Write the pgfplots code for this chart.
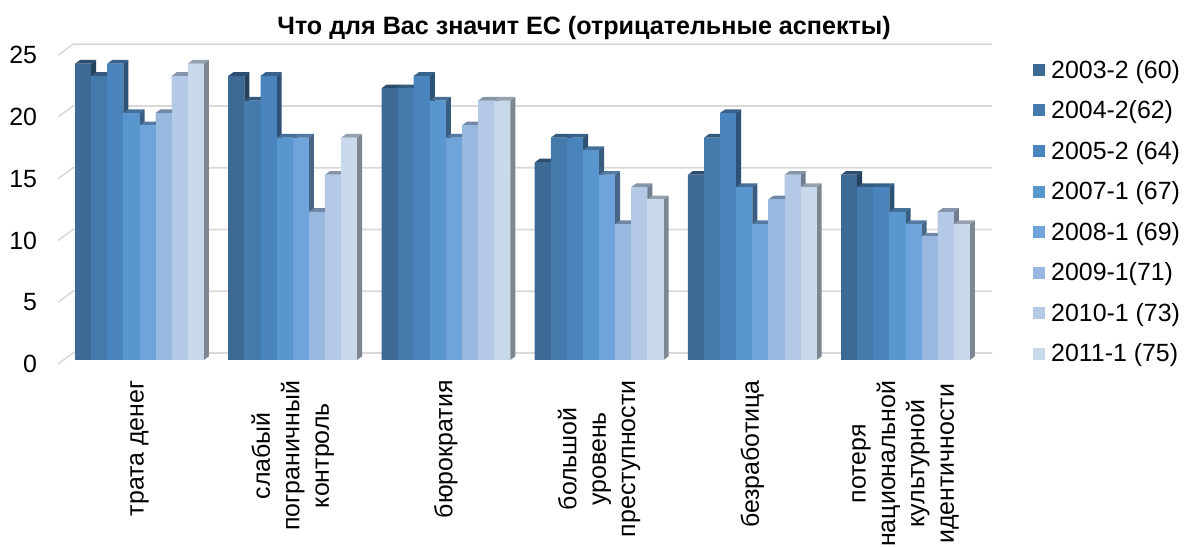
\documentclass[border=0pt]{standalone}
\usepackage{pgfplots}
\pgfplotsset{compat=1.18}
\usepackage{pgfplotstable}
\usepackage{fontspec}
\setmainfont{Liberation Sans}
\definecolor{c1}{HTML}{3C6A95}
\definecolor{c2}{HTML}{457BAC}
\definecolor{c3}{HTML}{4A84BC}
\definecolor{c4}{HTML}{5A96CE}
\definecolor{c5}{HTML}{6FA4DA}
\definecolor{c6}{HTML}{98B8E0}
\definecolor{c7}{HTML}{B3C9E6}
\definecolor{c8}{HTML}{C9D9EC}
\definecolor{gridc}{HTML}{D9D9D9}
\pgfplotstableread{
x s1 s2 s3 s4 s5 s6 s7 s8
0 24 23 24 20 19 20 23 24
1 23 21 23 18 18 12 15 18
2 22 22 23 21 18 19 21 21
3 16 18 18 17 15 11 14 13
4 15 18 20 14 11 13 15 14
5 15 14 14 12 11 10 12 11
}\datatable
\newlength{\unitY}\setlength{\unitY}{12.35bp}
% 3D column faces, drawn at the top centre of the front face
\newcommand{\declaredepth}[1]{%
  \colorlet{sidec#1}{c#1!62!black}%
  \colorlet{topc#1}{c#1!74!black}%
  \pgfdeclareplotmark{column depth #1}{%
    \pgfmathsetlengthmacro{\colh}{\barh*\unitY}%
    \pgfsetfillcolor{sidec#1}%
    \pgfpathmoveto{\pgfqpoint{8.05bp}{0pt}}%
    \pgfpathlineto{\pgfqpoint{13.05bp}{3.7bp}}%
    \pgfpathlineto{\pgfqpoint{13.05bp}{\dimexpr 3.7bp-\colh\relax}}%
    \pgfpathlineto{\pgfqpoint{8.05bp}{-\colh}}%
    \pgfpathclose
    \pgfusepath{fill}%
    \pgfsetfillcolor{topc#1}%
    \pgfpathmoveto{\pgfqpoint{-8.05bp}{0pt}}%
    \pgfpathlineto{\pgfqpoint{-3.05bp}{3.7bp}}%
    \pgfpathlineto{\pgfqpoint{13.05bp}{3.7bp}}%
    \pgfpathlineto{\pgfqpoint{8.05bp}{0pt}}%
    \pgfpathclose
    \pgfusepath{fill}%
    \pgfsetfillcolor{c#1}%
    \pgfpathrectanglecorners{\pgfqpoint{-8.05bp}{0pt}}{\pgfqpoint{8.05bp}{-\colh}}%
    \pgfusepath{fill}%
  }%
}
\declaredepth{1}\declaredepth{2}\declaredepth{3}\declaredepth{4}
\declaredepth{5}\declaredepth{6}\declaredepth{7}\declaredepth{8}
\newcommand{\series}[3]{% column, colour, legend
  \pgfmathsetmacro{\off}{(#1-4.5)*16.1/153.2}%
  \edef\doplot{\noexpand\addplot[ybar,bar width=16.1bp,bar shift=0pt,fill=#2,draw=none]
     table[x expr=\noexpand\thisrow{x}+\off,y=s#1]{\noexpand\datatable};
   \noexpand\addlegendentry{#3}
   \noexpand\addplot[forget plot,only marks,mark=column depth #1,
     visualization depends on={\noexpand\thisrow{s#1} \noexpand\as \noexpand\barh}]
     table[x expr=\noexpand\thisrow{x}+\off,y=s#1]{\noexpand\datatable};}%
  \doplot
}
\begin{document}
\begin{tikzpicture}[x=1bp,y=1bp]
\useasboundingbox (0,0) rectangle (1189bp,547bp);
% back wall, grid and value axis (pixel x, value y; front of axis at pixel row 364)
\begin{axis}[at={(0,0)},anchor=south west,scale only axis,
  width=1189bp,height=547bp,
  xmin=0,xmax=1189,
  ymin=-14.818,ymax=29.474,
  axis line style={draw=none},
  xtick=\empty,
  ytick={0,5,10,15,20,25},
  tick style={draw=none},
  yticklabel style={font=\fontsize{25}{25}\selectfont,anchor=east,xshift=40.5bp},
  /pgf/number format/assume math mode=true,
  clip=false]
\pgfplotsinvokeforeach{0,5,10,15,20,25}{
  \addplot[gridc,line width=1.6bp] coordinates {(58,#1) (73,#1+0.89) (992,#1+0.89)};
}
\end{axis}
% columns: categories at 0..5, front floor at pixel row 360
\begin{axis}[at={(0,0)},anchor=south west,scale only axis,
  width=1189bp,height=547bp,
  xmin=-0.91057,xmax=6.85,
  ymin=-15.142,ymax=29.150,
  axis line style={draw=none},
  tick style={draw=none},
  ytick=\empty,
  xtick={0,1,2,3,4,5},
  xticklabels={трата денег,{слабый\\пограничный\\контроль},бюрократия,{большой\\уровень\\преступности},безработица,{потеря\\национальной\\культурной\\идентичности}},
  xticklabel style={rotate=90,anchor=east,align=center,font=\fontsize{25}{29.5}\selectfont,xshift=170bp},
  title={\textbf{Что для Вас значит ЕС (отрицательные аспекты)}},
  title style={at={(584bp,513bp)},anchor=center,font=\fontsize{25.2}{27}\selectfont},
  legend cell align=left,
  legend style={at={(1033bp,489bp)},anchor=north west,draw=none,fill=none,inner sep=0pt,
    font=\fontsize{25}{25}\selectfont,row sep=17bp,
    /tikz/every odd column/.append style={column sep=4bp}},
  legend image code/.code={\fill[#1,draw=none] (0bp,-6bp) rectangle (12bp,6bp);},
  clip=false]
\series{1}{c1}{2003-2 (60)}
\series{2}{c2}{2004-2(62)}
\series{3}{c3}{2005-2 (64)}
\series{4}{c4}{2007-1 (67)}
\series{5}{c5}{2008-1 (69)}
\series{6}{c6}{2009-1(71)}
\series{7}{c7}{2010-1 (73)}
\series{8}{c8}{2011-1 (75)}
\end{axis}
\end{tikzpicture}
\end{document}
